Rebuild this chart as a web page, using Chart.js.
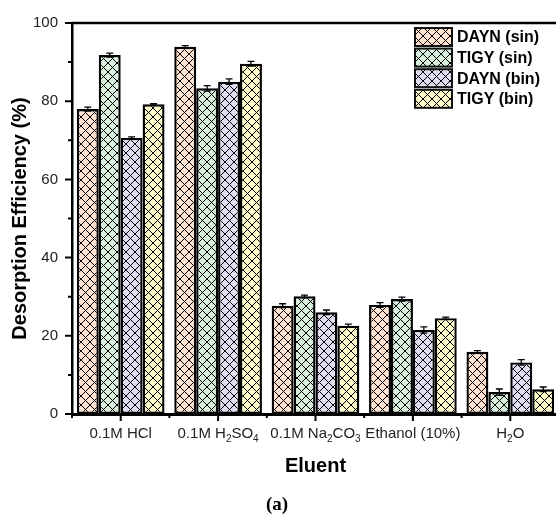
<!DOCTYPE html>
<html>
<head>
<meta charset="utf-8">
<script src="https://cdn.jsdelivr.net/npm/chart.js@4.4.1/dist/chart.umd.min.js"></script>
<style>
  html, body { margin: 0; padding: 0; background: #fff; overflow: hidden; }
  canvas { display: block; }
</style>
</head>
<body>
<canvas id="grafiek" width="566" height="520"></canvas>
<script>
// categorieen (een "_" voor een cijfer betekent subscript)
const eluenten = ['0.1M HCl', '0.1M H_2SO_4', '0.1M Na_2CO_3', 'Ethanol (10%)', 'H_2O'];
const reeksNamen = ['DAYN (sin)', 'TIGY (sin)', 'DAYN (bin)', 'TIGY (bin)'];
const reeksKleuren = ['#fde3d0', '#d9efdd', '#e0ddf1', '#fefdc9'];

// desorptie-efficientie (%)
const daynSin = [78.0, 93.9, 27.7, 27.9, 15.9];
const tigySin = [91.8, 83.3, 30.1, 29.4, 5.6];
const daynBin = [70.6, 85.0, 26.0, 21.5, 13.2];
const tigyBin = [79.2, 89.6, 22.6, 24.5, 6.3];

// foutmarges
const daynSinFout = [0.5, 0.3, 0.5, 0.6, 0.3];
const tigySinFout = [0.5, 0.7, 0.3, 0.5, 0.8];
const daynBinFout = [0.3, 0.7, 0.6, 0.8, 0.7];
const tigyBinFout = [0.2, 0.6, 0.4, 0.3, 0.6];

const yMajor = [0, 20, 40, 60, 80, 100];
const yMinor = [10, 30, 50, 70, 90];

const reeksWaarden = [daynSin, tigySin, daynBin, tigyBin];
const reeksFouten = [daynSinFout, tigySinFout, daynBinFout, tigyBinFout];

function maakArcering(kleur) {
  const tegel = document.createElement('canvas');
  tegel.width = 9;
  tegel.height = 9;
  const c = tegel.getContext('2d');
  c.fillStyle = kleur;
  c.fillRect(0, 0, 9, 9);
  c.strokeStyle = '#000';
  c.lineWidth = 1;
  c.beginPath();
  c.moveTo(-1, -1); c.lineTo(10, 10);
  c.moveTo(-1, 10); c.lineTo(10, -1);
  c.stroke();
  return c.createPattern(tegel, 'repeat');
}

const patronen = reeksKleuren.map(maakArcering);

function tekenSubLabel(ctx, tekst, midden, y, grootte) {
  const delen = [];
  for (let i = 0; i < tekst.length; i++) {
    if (tekst[i] === '_') {
      delen.push({ t: tekst[i + 1], sub: true });
      i++;
    } else if (delen.length && !delen[delen.length - 1].sub) {
      delen[delen.length - 1].t += tekst[i];
    } else {
      delen.push({ t: tekst[i], sub: false });
    }
  }
  const normaal = `${grootte}px "Liberation Sans", Arial, sans-serif`;
  const klein = `${Math.round(grootte * 0.68)}px "Liberation Sans", Arial, sans-serif`;
  let totaal = 0;
  delen.forEach(deel => {
    ctx.font = deel.sub ? klein : normaal;
    deel.w = ctx.measureText(deel.t).width;
    totaal += deel.w;
  });
  let x = midden - totaal / 2;
  ctx.textAlign = 'left';
  ctx.textBaseline = 'alphabetic';
  delen.forEach(deel => {
    ctx.font = deel.sub ? klein : normaal;
    ctx.fillText(deel.t, x, deel.sub ? y + 4 : y);
    x += deel.w;
  });
}

const foutbalken = {
  id: 'foutbalken',
  afterDatasetsDraw(chart) {
    const ctx = chart.ctx;
    const y = chart.scales.y;
    ctx.save();
    ctx.strokeStyle = '#000';
    ctx.lineWidth = 1.3;
    chart.data.datasets.forEach((ds, d) => {
      const meta = chart.getDatasetMeta(d);
      meta.data.forEach((bar, i) => {
        const v = ds.data[i];
        const f = reeksFouten[d][i];
        const boven = y.getPixelForValue(v + f);
        const onder = y.getPixelForValue(v - f);
        ctx.beginPath();
        ctx.moveTo(bar.x, boven); ctx.lineTo(bar.x, onder);
        ctx.moveTo(bar.x - 3.5, boven); ctx.lineTo(bar.x + 3.5, boven);
        ctx.moveTo(bar.x - 3.5, onder); ctx.lineTo(bar.x + 3.5, onder);
        ctx.stroke();
      });
    });
    ctx.restore();
  },
};

const assenEnTekst = {
  id: 'assenEnTekst',
  afterDraw(chart) {
    const ctx = chart.ctx;
    const { left, right, top, bottom } = chart.chartArea;
    const x = chart.scales.x;
    const y = chart.scales.y;
    ctx.save();
    ctx.strokeStyle = '#000';

    // bovenrand
    ctx.lineWidth = 2.5;
    ctx.beginPath();
    ctx.moveTo(left - 1, top); ctx.lineTo(right + 2, top);
    ctx.stroke();

    // y-streepjes
    ctx.lineWidth = 2;
    ctx.beginPath();
    yMajor.forEach(v => {
      const p = y.getPixelForValue(v);
      ctx.moveTo(left - 7, p); ctx.lineTo(left, p);
    });
    yMinor.forEach(v => {
      const p = y.getPixelForValue(v);
      ctx.moveTo(left - 4, p); ctx.lineTo(left, p);
    });
    ctx.stroke();

    // x-streepjes
    ctx.beginPath();
    const breedte = x.getPixelForValue(1) - x.getPixelForValue(0);
    eluenten.forEach((_, i) => {
      const p = x.getPixelForValue(i);
      ctx.moveTo(p, bottom); ctx.lineTo(p, bottom + 7);
      const grens = p - breedte / 2;
      ctx.moveTo(grens, bottom); ctx.lineTo(grens, bottom + 4);
    });
    ctx.stroke();

    // x-labels met subscript
    ctx.fillStyle = '#222';
    eluenten.forEach((naam, i) => {
      tekenSubLabel(ctx, naam, x.getPixelForValue(i), bottom + 24, 15);
    });

    // legenda
    reeksNamen.forEach((naam, i) => {
      const by = 28 + i * 20.6;
      ctx.fillStyle = patronen[i];
      ctx.fillRect(415, by, 37, 18);
      ctx.lineWidth = 2;
      ctx.strokeStyle = '#111';
      ctx.strokeRect(415, by, 37, 18);
      ctx.fillStyle = '#000';
      ctx.font = 'bold 16px "Liberation Sans", Arial, sans-serif';
      ctx.textAlign = 'left';
      ctx.textBaseline = 'middle';
      ctx.fillText(naam, 457, by + 10);
    });

    // onderschrift
    ctx.font = 'bold 19px "Liberation Serif", "Times New Roman", serif';
    ctx.textAlign = 'center';
    ctx.textBaseline = 'middle';
    ctx.fillText('(a)', 277, 505);
    ctx.restore();
  },
};

new Chart(document.getElementById('grafiek'), {
  type: 'bar',
  data: {
    labels: eluenten,
    datasets: reeksNamen.map((naam, i) => ({
      label: naam,
      data: reeksWaarden[i],
      backgroundColor: patronen[i],
      borderColor: '#000',
      borderWidth: 2.4,
      borderSkipped: false,
      categoryPercentage: 0.9,
      barPercentage: 1,
    })),
  },
  options: {
    responsive: false,
    animation: false,
    devicePixelRatio: 1,
    layout: { padding: { top: 21, right: 7, bottom: 30, left: 0 } },
    plugins: { legend: { display: false }, tooltip: { enabled: false } },
    scales: {
      x: {
        grid: { display: false, drawTicks: false },
        border: { display: true, color: '#000', width: 3 },
        ticks: { display: false },
        title: {
          display: true,
          text: 'Eluent',
          color: '#000',
          font: { family: '"Liberation Sans", Arial, sans-serif', size: 20, weight: 'bold' },
          padding: { top: 0, bottom: 12 },
        },
        afterFit(scale) { scale.height = 76; },
      },
      y: {
        min: 0,
        max: 100,
        grid: { display: false, drawTicks: false },
        border: { display: true, color: '#000', width: 2.5 },
        ticks: {
          stepSize: 20,
          padding: 14,
          color: '#222',
          font: { family: '"Liberation Sans", Arial, sans-serif', size: 15 },
        },
        title: {
          display: true,
          text: 'Desorption Efficiency (%)',
          color: '#000',
          font: { family: '"Liberation Sans", Arial, sans-serif', size: 20, weight: 'bold' },
          padding: { top: 8, bottom: 0 },
        },
        afterFit(scale) { scale.width = 72; },
      },
    },
  },
  plugins: [foutbalken, assenEnTekst],
});
</script>
</body>
</html>
